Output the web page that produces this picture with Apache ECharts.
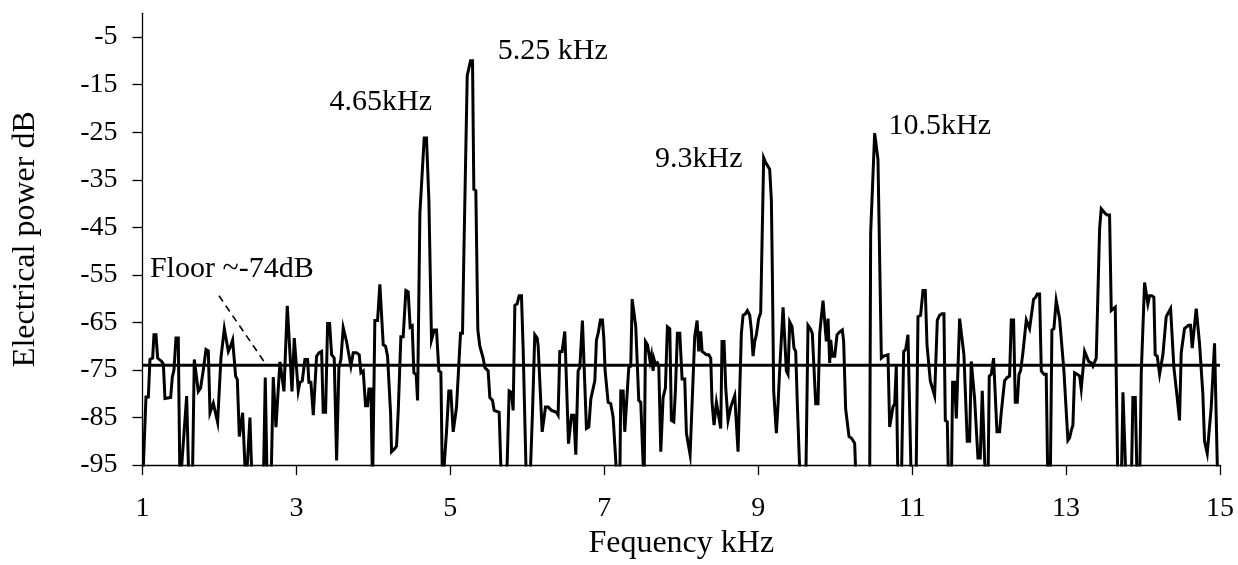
<!DOCTYPE html>
<html>
<head>
<meta charset="utf-8">
<script src="https://cdn.jsdelivr.net/npm/echarts@6/dist/echarts.min.js"></script>
<style>
  html, body { margin: 0; padding: 0; background: #fff; }
  #chart { width: 1238px; height: 565px; }
</style>
</head>
<body>
<div id="chart"></div>
<script>
// ---- data (frequency in kHz, power in dB; -100 = below the -95 axis floor) ----
const freqKHz = [
  1.000,1.045,1.076,1.097,1.132,1.149,1.175,1.197,1.249,1.271,1.292,1.366,1.387,1.409,1.435,1.465,1.487,1.574,1.604,1.647,
  1.673,1.695,1.725,1.755,1.790,1.825,1.855,1.877,1.920,1.976,2.019,2.041,2.063,2.084,2.115,2.145,2.171,2.210,2.232,2.258,
  2.301,2.344,2.361,2.396,2.426,2.569,2.595,2.621,2.669,2.699,2.734,2.760,2.786,2.807,2.838,2.881,2.916,2.942,2.972,3.024,
  3.045,3.076,3.110,3.145,3.162,3.188,3.219,3.240,3.262,3.292,3.327,3.348,3.379,3.405,3.431,3.457,3.491,3.522,3.552,3.578,
  3.608,3.630,3.651,3.673,3.708,3.738,3.781,3.816,3.838,3.868,3.898,3.924,3.942,3.968,3.989,4.019,4.054,4.084,4.106,4.128,
  4.158,4.184,4.206,4.223,4.236,4.279,4.301,4.323,4.357,4.387,4.422,4.452,4.478,4.504,4.526,4.556,4.574,4.604,4.626,4.660,
  4.690,4.721,4.738,4.755,4.790,4.820,4.851,4.877,4.898,4.916,4.950,4.980,5.006,5.037,5.058,5.080,5.102,5.132,5.158,5.175,
  5.193,5.219,5.240,5.262,5.288,5.305,5.331,5.357,5.383,5.405,5.426,5.448,5.470,5.491,5.513,5.548,5.569,5.634,5.665,5.729,
  5.764,5.794,5.816,5.838,5.868,5.894,5.924,5.946,5.968,5.989,6.032,6.067,6.097,6.128,6.141,6.162,6.193,6.214,6.236,6.271,
  6.314,6.379,6.400,6.422,6.452,6.487,6.509,6.535,6.574,6.604,6.630,6.660,6.682,6.716,6.738,6.768,6.799,6.825,6.846,6.877,
  6.898,6.920,6.950,6.976,6.994,7.011,7.050,7.084,7.115,7.136,7.171,7.201,7.214,7.245,7.266,7.288,7.318,7.344,7.362,7.383,
  7.409,7.431,7.448,7.474,7.491,7.517,7.535,7.561,7.578,7.595,7.613,7.634,7.647,7.664,7.690,7.708,7.734,7.764,7.794,7.820,
  7.851,7.872,7.903,7.924,7.950,7.981,8.011,8.045,8.067,8.089,8.115,8.132,8.158,8.175,8.206,8.227,8.253,8.271,8.297,8.327,
  8.357,8.383,8.400,8.426,8.457,8.478,8.513,8.530,8.556,8.578,8.608,8.643,8.664,8.695,8.717,8.738,8.760,8.781,8.803,8.833,
  8.859,8.890,8.911,8.933,8.955,8.976,9.006,9.032,9.071,9.097,9.119,9.149,9.171,9.184,9.201,9.236,9.258,9.279,9.301,9.323,
  9.344,9.366,9.387,9.409,9.439,9.465,9.487,9.509,9.530,9.548,9.617,9.647,9.677,9.703,9.725,9.747,9.777,9.799,9.820,9.842,
  9.864,9.885,9.907,9.929,9.942,9.963,9.994,10.024,10.058,10.093,10.110,10.136,10.154,10.180,10.210,10.232,10.253,10.275,10.448,10.461,
  10.483,10.513,10.535,10.556,10.578,10.600,10.630,10.686,10.708,10.729,10.751,10.773,10.794,10.816,10.859,10.890,10.916,10.946,10.968,10.990,
  11.050,11.076,11.110,11.141,11.171,11.193,11.214,11.236,11.258,11.292,11.314,11.327,11.357,11.387,11.413,11.431,11.457,11.474,11.509,11.526,
  11.552,11.574,11.595,11.617,11.639,11.673,11.695,11.716,11.747,11.768,11.790,11.812,11.833,11.855,11.885,11.911,11.933,11.955,11.985,12.002,
  12.028,12.058,12.080,12.102,12.136,12.158,12.180,12.201,12.232,12.266,12.288,12.318,12.340,12.366,12.388,12.409,12.439,12.461,12.483,12.504,
  12.526,12.548,12.578,12.604,12.626,12.656,12.678,12.712,12.742,12.764,12.794,12.816,12.842,12.872,12.894,12.916,12.937,12.972,12.989,13.024,
  13.046,13.068,13.089,13.111,13.145,13.176,13.197,13.219,13.241,13.262,13.293,13.327,13.349,13.371,13.392,13.414,13.436,13.457,13.479,13.509,
  13.535,13.565,13.587,13.609,13.639,13.661,13.674,13.717,13.739,13.760,13.782,13.847,13.868,13.899,13.925,13.955,13.977,13.998,14.020,14.042,
  14.063,14.085,14.115,14.141,14.158,14.184,14.215,14.236,14.258,14.280,14.301,14.323,14.358,14.375,14.401,14.423,14.444,14.474,14.496,14.518,
  14.539,14.561,14.591,14.617,14.639,14.661,14.691,14.713,14.734,14.756,14.777,14.799,14.834,14.855,14.886,14.907,14.929,14.951,14.972,15.000
];
const powerDB = [
  -100,-80.7,-80.7,-72.8,-72.5,-67.6,-67.6,-72.5,-73.2,-73.8,-81,-80.8,-76.5,-75,-68.3,-68.3,-100,-80.5,-100,-100,
  -72.8,-72.8,-79.5,-78.8,-75,-70.7,-71,-84,-82,-86,-72.5,-72.2,-66.3,-66.5,-71.1,-70,-68.7,-76.3,-77,-89,
  -84,-100,-100,-85,-100,-100,-76.6,-100,-100,-76.5,-87,-80,-73.3,-73.5,-79.5,-61.5,-71.5,-79.5,-68.3,-79.4,
  -77.6,-77.3,-72.8,-72.8,-77.6,-77.6,-84.5,-84.5,-72.1,-71.4,-71.1,-83.9,-83.9,-65.2,-65.2,-71.8,-72.5,-94,-74.5,-72.8,
  -66.1,-66.3,-69,-69.3,-74.2,-71.4,-71.4,-71.8,-75.6,-75.2,-82.5,-82.5,-79,-79,-100,-64.6,-64.6,-57,-57.3,-69.7,
  -70,-72.1,-72.1,-84,-92.2,-91.5,-91,-83.5,-68,-68,-58.3,-58.6,-66,-65.7,-75.6,-76,-81.4,-42.1,-42,-26.2,
  -26.2,-39.3,-39.5,-68.7,-66.6,-66.6,-75.2,-75.5,-100,-100,-88,-79.4,-79.4,-88,-87.7,-82.8,-82.8,-67.3,-67.3,-51.1,
  -50.8,-13.1,-12.8,-10,-10,-37,-37.3,-66.6,-70,-70,-72.5,-74.5,-74.9,-75.2,-80.8,-81.4,-83.5,-83.9,-100,-100,
  -79.4,-79.7,-83.5,-61.4,-61.1,-59.4,-59.4,-70.7,-71.1,-100,-100,-84,-67.6,-68.3,-70,-70,-88,-88,-82.8,-82.8,
  -83.5,-83.9,-84.5,-71.1,-71.1,-66.9,-67.3,-90.5,-84.5,-84.5,-92.8,-75.2,-74.5,-64.6,-64.6,-87.3,-87,-81.1,-80.8,-77.3,
  -68.7,-67.3,-64.5,-64.5,-68.3,-75.2,-81.8,-82.1,-84.9,-85.2,-100,-100,-79.4,-79.4,-88,-88,-74.5,-74.2,-60.1,-60.1,
  -65.9,-66.3,-81.4,-81.8,-82.1,-100,-69,-69.7,-71.4,-73.2,-71.8,-75.2,-72.8,-73.8,-73.5,-74.2,-92.2,-80.8,-78.8,-65.9,
  -66.3,-85.6,-85.9,-79.4,-67.3,-67.3,-76.9,-76.9,-88.3,-88.3,-92.8,-92.5,-75,-68,-64.6,-71.1,-66.9,-71.1,-71.4,-71.8,
  -71.8,-72.5,-81.8,-86.6,-81.8,-81.8,-87.3,-69,-69,-78.7,-85.6,-82.8,-82.5,-80.4,-80.4,-92.2,-92.5,-67.3,-63.5,-63.2,
  -62.5,-63.5,-66.6,-72.1,-69,-67.6,-64.2,-63,-30.4,-31.4,-31.8,-32.8,-39.3,-55,-79.4,-88.3,-82.1,-74.9,-74.5,-61.8,
  -62.1,-75.2,-75.9,-64.9,-65.9,-70.4,-71.1,-82.5,-82.8,-100,-100,-65.6,-66.3,-67.3,-67.3,-82.1,-82.1,-67.3,-67.3,-60.4,
  -60.8,-69,-64.2,-73.5,-68.7,-72.1,-72.1,-67.6,-67,-66.6,-69,-83.2,-83.2,-89,-89.3,-89,-90.4,-100,-100,-46.2,
  -45.9,-25.2,-25.5,-30.7,-31,-72.5,-72.1,-71.8,-87,-87,-82.8,-82.1,-74.2,-100,-100,-71.1,-70.7,-67.6,-68,-100,
  -100,-63.8,-63.5,-58.3,-58.3,-69.7,-69.7,-77.3,-77.6,-80.4,-80.4,-64.5,-63.5,-63.2,-63.2,-85.6,-85.9,-100,-100,-77.6,
  -77.6,-85.2,-85.2,-64.2,-64.2,-71.8,-71.8,-90,-90,-73.2,-73.2,-81.1,-81.1,-93.5,-93.5,-79.4,-79.4,-100,-100,-76.3,
  -75.9,-72.5,-72.5,-88,-88,-83.9,-83.5,-77.3,-76.6,-76.3,-64.5,-64.5,-81.8,-81.8,-75.9,-75.2,-71.4,-71.1,-64.5,-64.5,
  -66.3,-66.6,-60.1,-59.7,-59,-59,-75.2,-75.9,-75.9,-100,-100,-66.6,-66.3,-60.4,-60.4,-64.2,-64.5,-75.2,-75.5,-89.8,
  -89.3,-87.7,-86.6,-75.6,-75.9,-76.3,-79,-79.4,-71.1,-71.1,-73.2,-73.5,-74.2,-74.5,-72.5,-72.5,-45.2,-41.1,-41.1,-42.1,
  -42.4,-42.4,-62.5,-62.1,-61.8,-62.1,-100,-100,-79.7,-79.7,-100,-100,-80.8,-80.8,-100,-100,-75.6,-75.2,-56.6,-56.9,
  -61.1,-59.4,-59.4,-59.7,-71.8,-72.1,-75.9,-75.9,-71.8,-71.4,-63.8,-63.5,-62.1,-62.1,-74.5,-74.9,-80.8,-85.6,-71.4,-71.4,
  -66.3,-65.9,-65.6,-65.6,-70.4,-70.4,-62.1,-62.1,-69.4,-69.4,-80,-90,-92.5,-92.5,-82.8,-82.8,-69.4,-69.4,-100,-100
];
const floorDB = -74;
const xRange = [1, 15];
const yTickValues = [-95, -85, -75, -65, -55, -45, -35, -25, -15, -5];
const peakLabels = ['4.65kHz', '5.25 kHz', '9.3kHz', '10.5kHz', 'Floor ~-74dB'];
const peakLabelAt = [[4.097, -18.6], [6.33, -8.0], [8.227, -30.6], [11.36, -23.7], [2.16, -53.8]];
const floorLeader = [[1.994, -59.4], [2.604, -73.8]];

const FONT = "'Liberation Serif', 'Times New Roman', serif";
const spectrum = freqKHz.map((f, i) => [f, powerDB[i]]);

const chart = echarts.init(document.getElementById('chart'), null, { renderer: 'canvas' });
chart.setOption({
  animation: false,
  backgroundColor: '#fff',
  grid: { left: 142.5, right: 18, top: 13.3, bottom: 92, containLabel: false },
  xAxis: {
    type: 'value', min: xRange[0], max: xRange[1], interval: 2,
    name: 'Fequency kHz', nameLocation: 'middle', nameGap: 61,
    nameTextStyle: { fontFamily: FONT, fontSize: 32, color: '#000', verticalAlign: 'top' },
    axisLine: { show: true, onZero: false, lineStyle: { color: '#000', width: 1.3 } },
    axisTick: { show: true, length: 10, lineStyle: { color: '#000', width: 1.3 } },
    axisLabel: { fontFamily: FONT, fontSize: 28, color: '#000', margin: 30 },
    splitLine: { show: false }
  },
  yAxis: {
    type: 'value', min: -95, max: 0,
    name: 'Electrical power dB', nameLocation: 'middle', nameGap: 101, nameRotate: 90,
    nameTextStyle: { fontFamily: FONT, fontSize: 32, color: '#000' },
    axisLine: { show: true, onZero: false, lineStyle: { color: '#000', width: 1.3 } },
    axisTick: { show: true, length: 10, customValues: yTickValues, lineStyle: { color: '#000', width: 1.3 } },
    axisLabel: { fontFamily: FONT, fontSize: 28, color: '#000', margin: 25, customValues: yTickValues },
    splitLine: { show: false }
  },
  series: [
    {
      name: 'floor', type: 'line', data: [[xRange[0], floorDB], [xRange[1], floorDB]],
      showSymbol: false, symbol: 'none', silent: true,
      lineStyle: { color: '#000', width: 3 }, z: 2
    },
    {
      name: 'spectrum', type: 'line', data: spectrum, clip: true,
      showSymbol: false, symbol: 'none', silent: true,
      lineStyle: { color: '#000', width: 3, join: 'miter' }, z: 3
    },
    {
      name: 'leader', type: 'line', data: floorLeader,
      showSymbol: false, symbol: 'none', silent: true,
      lineStyle: { color: '#000', width: 1.6, type: [7, 5] }, z: 3
    }
  ]
});

// annotation texts placed at data coordinates through the chart's own scales
chart.setOption({
  graphic: peakLabels.map((t, i) => {
    const p = chart.convertToPixel({ gridIndex: 0 }, peakLabelAt[i]);
    return {
      type: 'text', x: p[0], y: p[1], silent: true, z: 10,
      style: {
        text: t, fill: '#000', font: '30px ' + FONT,
        align: 'center', verticalAlign: 'middle'
      }
    };
  })
});
</script>
</body>
</html>
